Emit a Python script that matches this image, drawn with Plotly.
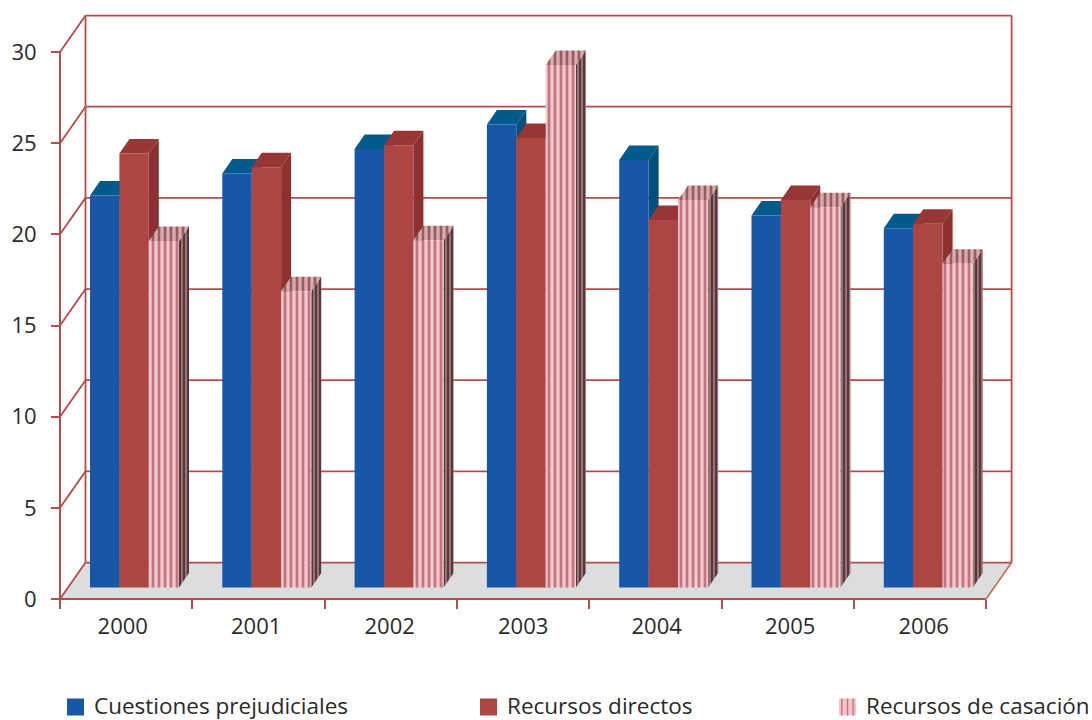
import plotly.graph_objects as go

# Chart data
years = ["2000", "2001", "2002", "2003", "2004", "2005", "2006"]
cuestiones = [21.5, 22.7, 24.05, 25.4, 23.45, 20.4, 19.7]
directos = [23.8, 23.05, 24.25, 24.65, 20.15, 21.25, 19.95]
casacion = [19.0, 16.25, 19.05, 28.65, 21.25, 20.85, 17.75]
y_ticks = [0, 5, 10, 15, 20, 25, 30]

# Pixel frame: the plot area is slightly larger than the box so no edge line is clipped
W, H = 1092, 720
AXIS_X, AXIS_Y = 60, 599
LEFT, RIGHT, TOP, BOTTOM = AXIS_X - 6, 1016, 10, AXIS_Y + 6
PX_X = 132.3   # pixels per category
PX_Y = 18.233  # pixels per value unit

# Perspective offsets, expressed in axis units
WALL_DX, WALL_DY = 25.5 / PX_X, 2.0
BAR_DX, BAR_DY = 10 / PX_X, 14.5 / PX_Y
FLOOR = 11.5 / PX_Y
BAR_START = 30 / PX_X
BAR_W = 29.4 / PX_X
PINK_W = 30.2 / PX_X

GRID = "#b34c4b"
TEXT = "#2b2a2b"
FONT = "Open Sans"

n = len(years)
fig = go.Figure()


def line_trace(xs, ys, color=GRID, width=2):
    return go.Scatter(x=xs, y=ys, mode="lines", line=dict(color=color, width=width),
                      hoverinfo="skip", showlegend=False, zorder=1)


# Floor of the box
fig.add_trace(go.Scatter(
    x=[0, n, n + WALL_DX, WALL_DX, 0], y=[0, 0, WALL_DY, WALL_DY, 0], mode="lines",
    line=dict(width=0), fill="toself", fillcolor="#dcddde",
    hoverinfo="skip", showlegend=False, zorder=0))

# Back wall rules, left wall diagonals and the front axes
gx, gy = [], []
for v in y_ticks:
    gx += [WALL_DX, n + WALL_DX, None, 0, WALL_DX, None]
    gy += [v + WALL_DY, v + WALL_DY, None, v, v + WALL_DY, None]
fig.add_trace(line_trace(gx, gy, width=1.8))
fig.add_trace(line_trace([WALL_DX, WALL_DX, None, n + WALL_DX, n + WALL_DX],
                         [WALL_DY, 30 + WALL_DY, None, WALL_DY, 30 + WALL_DY], width=1.8))
fig.add_trace(line_trace([0, 0, None, 0, n], [0, 30, None, 0, 0], width=2))
fig.add_trace(line_trace([n, n + WALL_DX], [0, WALL_DY], color="#c4704f", width=1.6))


def add_series(values, slot, width, name, front, top_face, side_face, z):
    """Draws one series as side and top polygons behind a front bar."""
    lefts = [i + BAR_START + slot * BAR_W for i in range(n)]
    sx, sy, tx, ty = [], [], [], []
    for xl, v in zip(lefts, values):
        xr = xl + width
        ytop = v + FLOOR
        sx += [xr, xr + BAR_DX, xr + BAR_DX, xr, xr, None]
        sy += [FLOOR, FLOOR + BAR_DY, ytop + BAR_DY, ytop, FLOOR, None]
        tx += [xl, xl + BAR_DX, xr + BAR_DX, xr, xl, None]
        ty += [ytop, ytop + BAR_DY, ytop + BAR_DY, ytop, ytop, None]
    for xs, ys, face in ((sx, sy, side_face), (tx, ty, top_face)):
        fig.add_trace(go.Scatter(x=xs, y=ys, mode="lines", line=dict(width=0),
                                 fill="toself", hoverinfo="skip", showlegend=False,
                                 zorder=z, **face))
    fig.add_trace(go.Bar(x=[x + width / 2 for x in lefts], y=values, base=FLOOR, width=width,
                         name=name, marker=dict(line=dict(width=0), **front),
                         showlegend=False, zorder=z + 1))


add_series(cuestiones, 0, BAR_W, "Cuestiones prejudiciales",
           dict(color="#1757a6"), dict(fillcolor="#005a8c"), dict(fillcolor="#004f7c"), 2)
add_series(directos, 1, BAR_W, "Recursos directos",
           dict(color="#ad4543"), dict(fillcolor="#963735"), dict(fillcolor="#8c3130"), 4)


def stripes(bg, fg, size=6, solidity=0.45):
    return dict(shape="|", bgcolor=bg, fgcolor=fg, size=size, solidity=solidity, fillmode="replace")


add_series(casacion, 2, PINK_W, "Recursos de casación",
           dict(color="#efc6cb", pattern=stripes("#f0c8cd", "#c4737f")),
           dict(fillcolor="#d9a3a6", fillpattern=stripes("#dfaaad", "#8f5f62")),
           dict(fillcolor="#5a3c3e", fillpattern=stripes("#9a7274", "#4c3234", size=4)), 6)


def px(x):
    return (x - LEFT) / (RIGHT - LEFT)


def py(y):
    return (BOTTOM - y) / (BOTTOM - TOP)


# Legend row: swatch rectangles and real text
shapes, annotations = [], []
legend_items = [("Cuestiones prejudiciales", 67, "#1757a6"),
                ("Recursos directos", 480, "#ad4543"),
                ("Recursos de casación", 839, "#f0c6cb")]
for label, x0, col in legend_items:
    shapes.append(dict(type="rect", xref="paper", yref="paper", x0=px(x0), x1=px(x0 + 17),
                       y0=py(715.5), y1=py(698.5), fillcolor=col, line=dict(width=0)))
    annotations.append(dict(text=label, xref="paper", yref="paper", x=px(x0 + 25), y=py(705),
                            xanchor="left", yanchor="middle", showarrow=False,
                            font=dict(family=FONT, size=22.5, color=TEXT)))
for k in range(1, 6, 2):
    x0 = 839 + k * 17 / 6 - 0.7
    shapes.append(dict(type="rect", xref="paper", yref="paper", x0=px(x0), x1=px(x0 + 1.4),
                       y0=py(715.5), y1=py(698.5), fillcolor="#c4737f", line=dict(width=0)))

fig.update_layout(
    width=W, height=H, autosize=False,
    margin=dict(l=LEFT, r=W - RIGHT, t=TOP, b=H - BOTTOM, pad=0),
    paper_bgcolor="white", plot_bgcolor="white",
    barmode="overlay", showlegend=False,
    font=dict(family=FONT, color=TEXT, size=22),
    shapes=shapes, annotations=annotations,
    xaxis=dict(range=[(LEFT - AXIS_X) / PX_X, (RIGHT - AXIS_X) / PX_X],
               automargin=False, anchor="free", position=py(AXIS_Y),
               showgrid=False, zeroline=False, showline=False,
               tickmode="array",
               tickvals=[i + 0.5 + (i - 3) * 0.009 + 0.001 for i in range(n)], ticktext=years,
               ticks="outside", ticklen=5, tickcolor="rgba(0,0,0,0)", ticklabelstandoff=3,
               tickfont=dict(family=FONT, size=22, color=TEXT),
               minor=dict(tickmode="array", tickvals=list(range(n + 1)), ticks="outside",
                          ticklen=9, tickwidth=1.8, tickcolor=GRID, showgrid=False)),
    yaxis=dict(range=[(AXIS_Y - BOTTOM) / PX_Y, (AXIS_Y - TOP) / PX_Y],
               automargin=False, anchor="free", position=px(AXIS_X),
               showgrid=False, zeroline=False, showline=False,
               tickmode="array", tickvals=y_ticks, ticktext=[str(v) for v in y_ticks],
               ticks="outside", ticklen=9, tickwidth=1.8, tickcolor=GRID, ticklabelstandoff=10,
               tickfont=dict(family=FONT, size=22, color=TEXT)),
)

fig.write_html("out.html")
